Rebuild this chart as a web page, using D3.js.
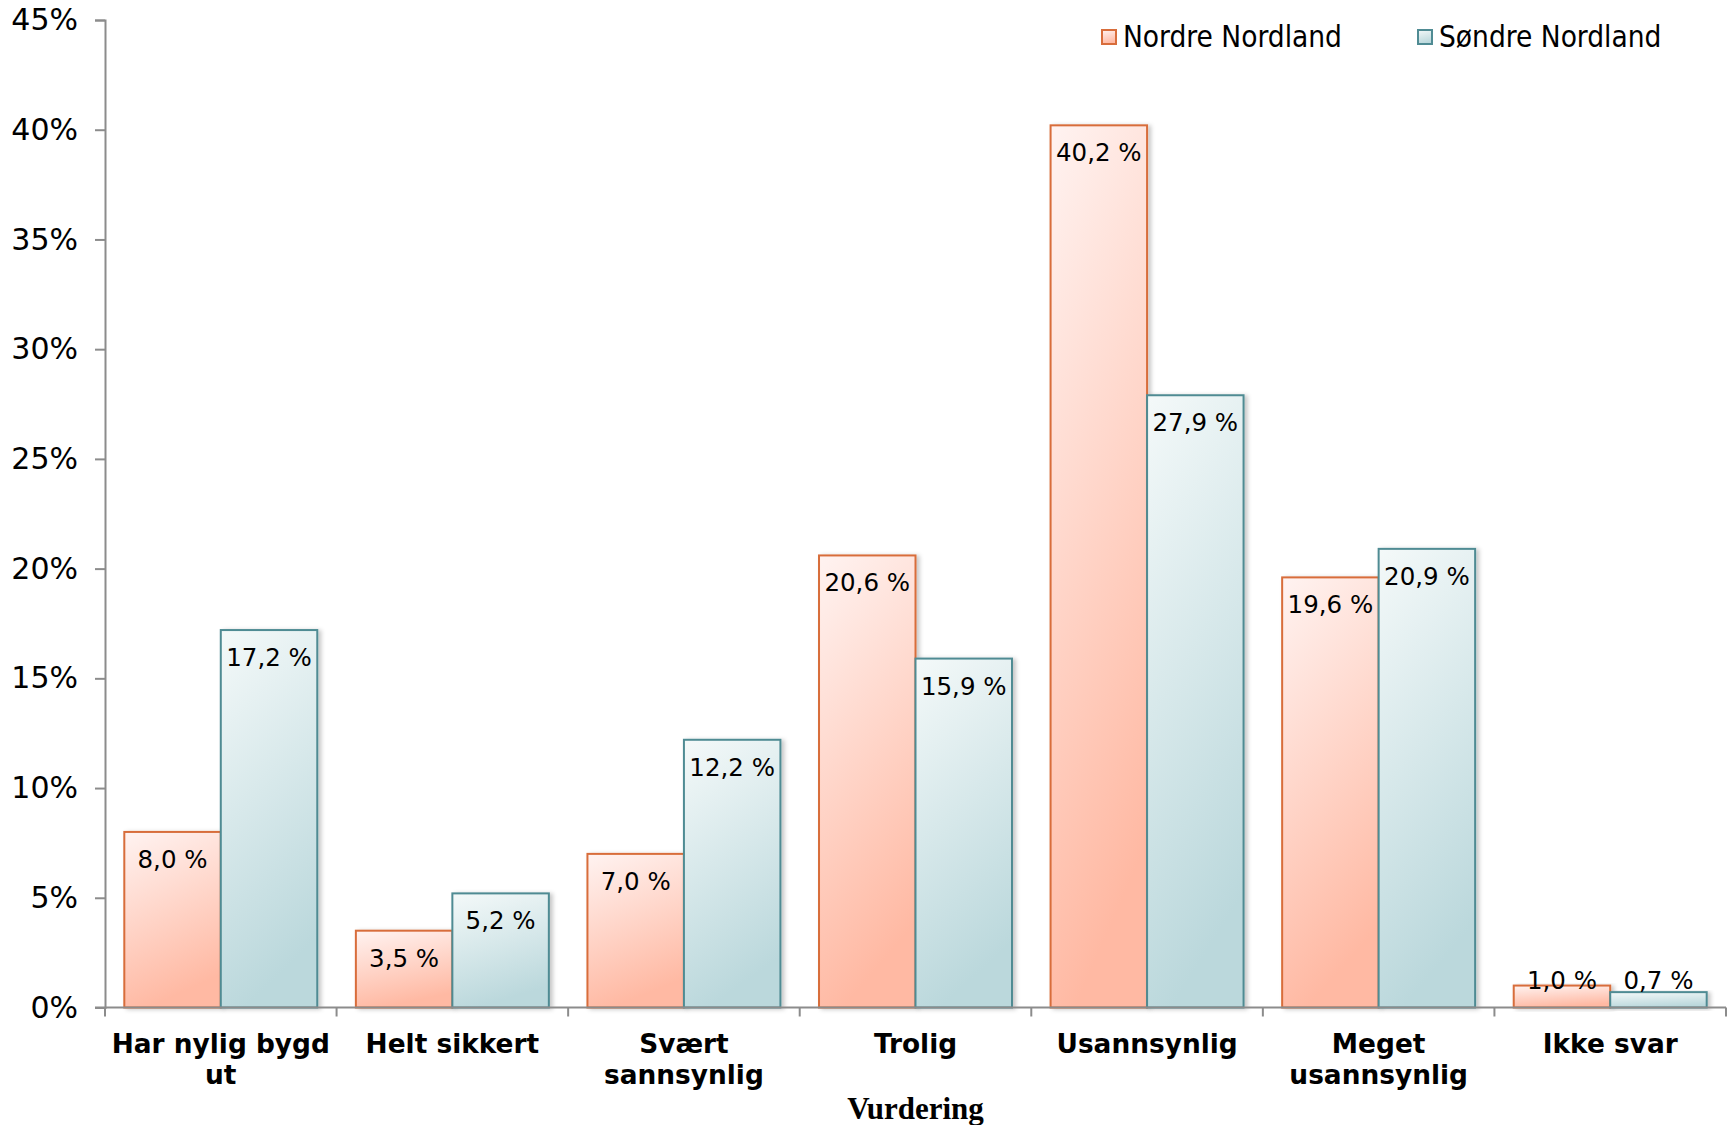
<!DOCTYPE html>
<html>
<head>
<meta charset="utf-8">
<script src="https://cdn.jsdelivr.net/npm/d3@7"></script>
<style>
  body { margin: 0; background: #fff; }
  svg { display: block; }
</style>
</head>
<body>
<svg id="chart" width="1736" height="1125"></svg>
<script>
// chart data
const categories = [
    ["Har nylig bygd", "ut"],
    ["Helt sikkert"],
    ["Svært", "sannsynlig"],
    ["Trolig"],
    ["Usannsynlig"],
    ["Meget", "usannsynlig"],
    ["Ikke svar"]
];
const seriesNames = ["Nordre Nordland", "Søndre Nordland"];
const nordre = [8.0, 3.5, 7.0, 20.6, 40.2, 19.6, 1.0];
const sondre = [17.2, 5.2, 12.2, 15.9, 27.9, 20.9, 0.7];
const yTicks = [0, 5, 10, 15, 20, 25, 30, 35, 40, 45];

const svg = d3.select("#chart");
const margin = { left: 105, right: 10, top: 20, bottom: 117.5 };
const width = 1736, height = 1125;

// gradients + shadow
const defs = svg.append("defs");
const grads = [
    { id: "gOr", top: "#fff3f1", bottom: "#ffb9a3" },
    { id: "gTe", top: "#f4f9f9", bottom: "#bbd8dc" }
];
grads.forEach(g => {
    const lg = defs.append("linearGradient").attr("id", g.id)
        .attr("x1", 0).attr("y1", 0).attr("x2", 0.25).attr("y2", 1);
    lg.append("stop").attr("offset", "0%").attr("stop-color", g.top);
    lg.append("stop").attr("offset", "100%").attr("stop-color", g.bottom);
});
defs.append("filter").attr("id", "shadow")
    .attr("x", "-10%").attr("y", "-10%").attr("width", "130%").attr("height", "130%")
    .append("feDropShadow")
    .attr("dx", 3).attr("dy", 1).attr("stdDeviation", 2)
    .attr("flood-color", "#000").attr("flood-opacity", 0.22);

const fills = ["url(#gOr)", "url(#gTe)"];
const strokes = ["#d86d3b", "#4f8b93"];

// scales
const x0 = d3.scaleBand()
    .domain(d3.range(categories.length))
    .range([margin.left, width - margin.right])
    .paddingInner(0).paddingOuter(0);
const x1 = d3.scaleBand()
    .domain([0, 1])
    .range([0, x0.bandwidth()])
    .paddingInner(0).paddingOuter(0.2);
const y = d3.scaleLinear()
    .domain([0, 45])
    .range([height - margin.bottom, margin.top]);

// y axis
const yAxis = svg.append("g")
    .attr("transform", `translate(${margin.left},0)`)
    .call(d3.axisLeft(y).tickValues(yTicks).tickFormat(d => d + "%").tickSize(10).tickPadding(17));
yAxis.select(".domain").attr("stroke", "#8c8c8c").attr("stroke-width", 2);
yAxis.selectAll(".tick line").attr("stroke", "#8c8c8c").attr("stroke-width", 2);
yAxis.selectAll(".tick text")
    .attr("font-family", "DejaVu Sans, Verdana, sans-serif")
    .attr("font-size", 30).attr("fill", "#000");

// bars
const rows = categories.map((c, i) => [nordre[i], sondre[i]]);
const groups = svg.append("g").selectAll("g")
    .data(rows)
    .join("g")
    .attr("transform", (d, i) => `translate(${x0(i)},0)`);

groups.selectAll("rect")
    .data(d => d.map((v, s) => ({ v, s })))
    .join("rect")
    .attr("x", d => x1(d.s))
    .attr("y", d => y(d.v))
    .attr("width", x1.bandwidth())
    .attr("height", d => y(0) - y(d.v))
    .attr("fill", d => fills[d.s])
    .attr("stroke", d => strokes[d.s])
    .attr("stroke-width", 2)
    .attr("filter", "url(#shadow)");

// data labels (inside end, clamped at base)
groups.selectAll("text.val")
    .data(d => d.map((v, s) => ({ v, s })))
    .join("text")
    .attr("class", "val")
    .attr("x", d => x1(d.s) + x1.bandwidth() / 2)
    .attr("y", d => Math.min(y(d.v) + 36, y(0) - 19))
    .attr("text-anchor", "middle")
    .attr("font-family", "DejaVu Sans, Verdana, sans-serif")
    .attr("font-size", 24.5)
    .attr("fill", "#000")
    .text(d => d.v.toFixed(1).replace(".", ",") + " %");

// x axis line + ticks at category boundaries
const xAxis = svg.append("g");
xAxis.append("line")
    .attr("x1", margin.left - 10).attr("x2", width - margin.right)
    .attr("y1", y(0)).attr("y2", y(0))
    .attr("stroke", "#8c8c8c").attr("stroke-width", 2);
xAxis.selectAll("line.tk")
    .data(d3.range(categories.length + 1))
    .join("line")
    .attr("class", "tk")
    .attr("x1", i => i < categories.length ? x0(i) : x0(i - 1) + x0.bandwidth())
    .attr("x2", i => i < categories.length ? x0(i) : x0(i - 1) + x0.bandwidth())
    .attr("y1", y(0)).attr("y2", y(0) + 9)
    .attr("stroke", "#8c8c8c").attr("stroke-width", 2);

// category labels
const catText = svg.append("g").selectAll("text")
    .data(categories)
    .join("text")
    .attr("x", (d, i) => x0(i) + x0.bandwidth() / 2)
    .attr("y", y(0) + 45)
    .attr("text-anchor", "middle")
    .attr("font-family", "DejaVu Sans, Verdana, sans-serif")
    .attr("font-weight", "bold")
    .attr("font-size", 26.4)
    .attr("fill", "#000");
catText.selectAll("tspan")
    .data(d => d)
    .join("tspan")
    .attr("x", function () { return d3.select(this.parentNode).attr("x"); })
    .attr("dy", (d, i) => i === 0 ? 0 : 31)
    .text(d => d);

// axis title
svg.append("text")
    .attr("x", (margin.left + width - margin.right) / 2)
    .attr("y", 1119)
    .attr("text-anchor", "middle")
    .attr("font-family", "Liberation Serif, Times New Roman, serif")
    .attr("font-weight", "bold")
    .attr("font-size", 31)
    .attr("fill", "#000")
    .text("Vurdering");

// legend
const legendX = [1102, 1418];
const legend = svg.append("g").selectAll("g")
    .data(seriesNames)
    .join("g")
    .attr("transform", (d, i) => `translate(${legendX[i]},30)`);
legend.append("rect")
    .attr("width", 14).attr("height", 14)
    .attr("fill", (d, i) => fills[i])
    .attr("stroke", (d, i) => strokes[i])
    .attr("stroke-width", 2);
legend.append("text")
    .attr("x", 21).attr("y", 17)
    .attr("font-family", "DejaVu Sans Condensed, DejaVu Sans, sans-serif")
    .attr("font-size", 29.5)
    .attr("fill", "#000")
    .text(d => d);
</script>
</body>
</html>
